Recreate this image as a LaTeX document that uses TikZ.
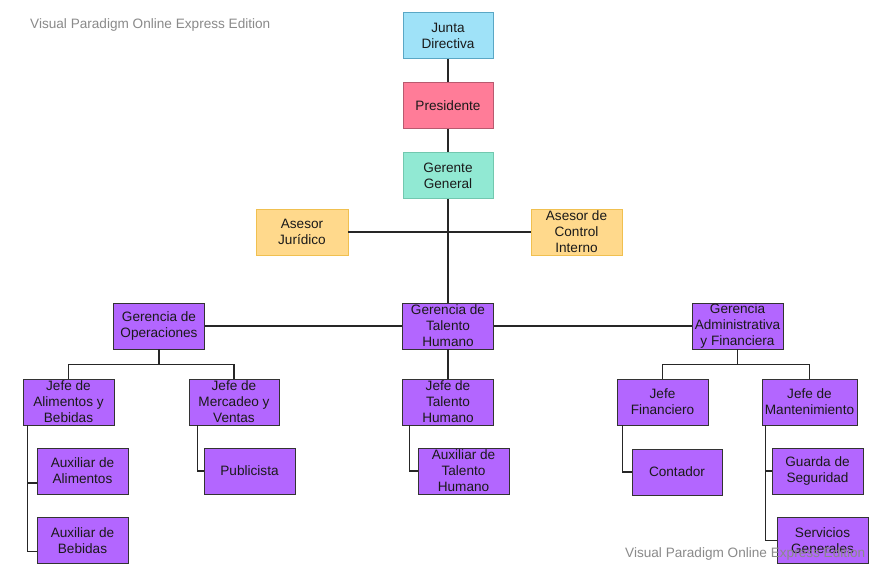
\documentclass[tikz,border=0pt]{standalone}
\usepackage{fontspec}
\setmainfont{Liberation Sans}
\usetikzlibrary{calc}
\definecolor{jdfill}{HTML}{9FE2F8}\definecolor{jddraw}{HTML}{5AA7C5}
\definecolor{prfill}{HTML}{FF7C98}\definecolor{prdraw}{HTML}{B85A6F}
\definecolor{ggfill}{HTML}{91E9D3}\definecolor{ggdraw}{HTML}{72C8AF}
\definecolor{asfill}{HTML}{FFD98C}\definecolor{asdraw}{HTML}{F0C050}
\definecolor{pufill}{HTML}{B366FF}\definecolor{pudraw}{HTML}{333333}
\definecolor{txt}{HTML}{1A1A1A}\definecolor{wm}{HTML}{8A8A8A}
\tikzset{
  box/.style={draw, line width=0.9pt, minimum width=#1, minimum height=46pt, inner sep=0pt,
    align=center, text=txt, font=\fontsize{13.6}{16}\selectfont},
  box/.default=91pt,
  jdbox/.style={box=90pt, fill=jdfill, draw=jddraw},
  prbox/.style={box=90pt, fill=prfill, draw=prdraw},
  ggbox/.style={box=90pt, fill=ggfill, draw=ggdraw},
  asbox/.style={box=91pt, fill=asfill, draw=asdraw},
  pubox/.style={box=#1, fill=pufill, draw=pudraw},
  pubox/.default=91pt,
  link/.style={draw=black!85, line width=1.1pt},
  wmark/.style={text=wm, font=\fontsize{13.6}{16}\selectfont, inner sep=0pt, anchor=west}
}
\begin{document}
\begin{tikzpicture}[x=1pt,y=-1pt]
\useasboundingbox (0,0) rectangle (882,588);
\fill[white] (0,0) rectangle (882,588);
% nodes
\node[jdbox] (jd) at (448,35.5) {Junta\\Directiva};
\node[prbox] (pr) at (448,105.5) {Presidente};
\node[ggbox] (gg) at (448,175.5) {Gerente\\General};
\node[asbox, minimum width=92pt] (aj) at (302,232) {Asesor\\Jurídico};
\node[asbox] (aci) at (576.5,232) {Asesor de\\Control\\Interno};
\node[pubox] (gop) at (159,326) {Gerencia de\\Operaciones};
\node[pubox] (gth) at (448,326) {Gerencia de\\Talento\\Humano};
\node[pubox] (gadm) at (737.5,326) {Gerencia\\Administrativa\\y Financiera};
\node[pubox] (jab) at (68.5,402) {Jefe de\\Alimentos y\\Bebidas};
\node[pubox=90pt] (jmv) at (234,402) {Jefe de\\Mercadeo y\\Ventas};
\node[pubox] (jth) at (448,402) {Jefe de\\Talento\\Humano};
\node[pubox] (jf) at (662.5,402) {Jefe\\Financiero};
\node[pubox=95pt] (jm) at (809.5,402) {Jefe de\\Mantenimiento};
\node[pubox] (aa) at (82.5,471) {Auxiliar de\\Alimentos};
\node[pubox] (ab) at (82.5,540.5) {Auxiliar de\\Bebidas};
\node[pubox] (pub) at (249.5,471) {Publicista};
\node[pubox] (ath) at (463.5,471) {Auxiliar de\\Talento\\Humano};
\node[pubox=90pt] (cont) at (677,472) {Contador};
\node[pubox] (gs) at (817.5,471) {Guarda de\\Seguridad};
\node[pubox] (sg) at (822.5,540.5) {Servicios\\Generales};
% connectors
\draw[link] (jd) -- (pr);
\draw[link] (pr) -- (gg);
\draw[link] (gg) -- (gth);
\draw[link] (aj.east) -- (aci.west);
\draw[link] (gop) -- (gth);
\draw[link] (gth) -- (gadm);
\draw[link] (gop.south) -- ++(0,15) coordinate (b1);
\draw[link] (jab.north) |- (b1) -| (jmv.north);
\draw[link] (gadm.south) -- ++(0,15) coordinate (b2);
\draw[link] (jf.north) |- (b2) -| (jm.north);
\draw[link] (gth.south) -- (jth.north);
\draw[link] ($(jab.south west)+(5,0)$) |- ($(ab.west)+(0,11)$);
\draw[link] ($(jab.south west)+(5,0)$) |- ($(aa.west)+(0,12)$);
\draw[link] ($(jmv.south west)+(9,0)$) |- (pub.west);
\draw[link] ($(jth.south west)+(7,0)$) |- (ath.west);
\draw[link] ($(jf.south west)+(6,0)$) |- (cont.west);
\draw[link] ($(jm.south west)+(4,0)$) |- (sg.west);
\draw[link] ($(jm.south west)+(4,0)$) |- (gs.west);
% watermarks
\node[wmark] (wm1) at (30,25) {Visual Paradigm Online Express Edition};
\node[wmark] (wm2) at (625,554) {Visual Paradigm Online Express Edition};
\end{tikzpicture}
\end{document}
